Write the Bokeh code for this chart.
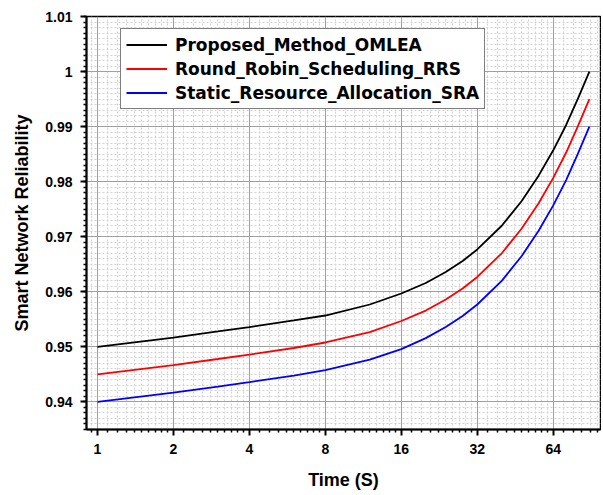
from bokeh.plotting import figure
from bokeh.models import (FixedTicker, CustomJSTickFormatter, Legend, LegendItem, Range1d)
from bokeh.embed import file_html
from bokeh.resources import INLINE

# ---- data ----
time_s = [1, 2, 3, 4, 6, 8, 12, 16, 20, 24, 28, 32, 40, 48, 56, 64, 72, 80, 89]
omlea = [0.9500, 0.9517, 0.9528, 0.9536, 0.9548, 0.9557, 0.9577, 0.9597,
         0.9616, 0.9636, 0.9656, 0.9677, 0.9720, 0.9765, 0.9811, 0.9857,
         0.9903, 0.9950, 1.0000]
rrs = [0.9450, 0.9467, 0.9478, 0.9486, 0.9498, 0.9508, 0.9527, 0.9547,
       0.9566, 0.9586, 0.9606, 0.9627, 0.9670, 0.9715, 0.9761, 0.9807,
       0.9853, 0.9900, 0.9950]
sra = [0.9400, 0.9417, 0.9428, 0.9436, 0.9448, 0.9458, 0.9477, 0.9496,
       0.9516, 0.9536, 0.9556, 0.9577, 0.9620, 0.9665, 0.9711, 0.9757,
       0.9803, 0.9850, 0.9900]
series_names = ["Proposed_Method_OMLEA", "Round_Robin_Scheduling_RRS",
                "Static_Resource_Allocation_SRA"]
series_colors = ["#000000", "#ff0000", "#0000ff"]
x_ticks = [1, 2, 4, 8, 16, 32, 64]
y_ticks = [0.94, 0.95, 0.96, 0.97, 0.98, 0.99, 1.00, 1.01]

# minor tick positions (linear subdivisions between powers of two)
x_minor = []
for k in range(-1, 7):
    base = 2.0 ** k
    for i in range(1, 10):
        x_minor.append(base * (1 + i / 10))
y_minor = [round(0.935 + 0.001 * i, 3) for i in range(0, 76)]

p = figure(width=601, height=492, x_axis_type="log",
           x_range=Range1d(0.905, 98.5), y_range=Range1d(0.935, 1.01),
           output_backend="svg", toolbar_location=None,
           min_border_left=86, min_border_right=1, min_border_top=16,
           min_border_bottom=62, background_fill_color="white",
           border_fill_color="white")

p.outline_line_color = "black"
p.outline_line_width = 1.5

# axes
p.xaxis.ticker = FixedTicker(ticks=x_ticks, minor_ticks=x_minor)
p.yaxis.ticker = FixedTicker(ticks=y_ticks, minor_ticks=y_minor)
p.xaxis.formatter = CustomJSTickFormatter(code="return String(Math.round(tick));")
p.yaxis.formatter = CustomJSTickFormatter(code="return String(Number(tick.toFixed(3)));")

for ax in (p.xaxis[0], p.yaxis[0]):
    ax.axis_line_color = "black"
    ax.axis_line_width = 2
    ax.major_tick_line_color = "black"
    ax.major_tick_line_width = 2
    ax.major_tick_out = 6
    ax.major_tick_in = 0
    ax.minor_tick_line_color = "black"
    ax.minor_tick_line_width = 1.5
    ax.minor_tick_out = 3
    ax.minor_tick_in = 0
    ax.major_label_text_font = "Liberation Sans"
    ax.major_label_text_font_style = "bold"
    ax.major_label_text_font_size = "14px"
    ax.major_label_text_color = "black"
    ax.axis_label_text_font = "Liberation Sans"
    ax.axis_label_text_font_style = "bold"
    ax.axis_label_text_font_size = "18px"
    ax.axis_label_text_color = "black"

p.xaxis.axis_label = "Time (S)"
p.yaxis.axis_label = "Smart Network Reliability"
p.xaxis.major_label_standoff = 8
p.xaxis.axis_label_standoff = 13
p.yaxis.major_label_standoff = 8
p.yaxis.axis_label_standoff = 10

# grids
for g in (p.xgrid[0], p.ygrid[0]):
    g.grid_line_color = "#a0a0a0"
    g.grid_line_width = 1
    g.minor_grid_line_color = "#d2d2d2"
    g.minor_grid_line_width = 1
    g.minor_grid_line_dash = "2 2"
p.xgrid.ticker = p.xaxis.ticker
p.ygrid.ticker = p.yaxis.ticker

# lines
renderers = []
for vals, col in zip([omlea, rrs, sra], series_colors):
    r = p.line(time_s, vals, line_color=col, line_width=1.8)
    renderers.append(r)

legend = Legend(items=[LegendItem(label=n, renderers=[r])
                       for n, r in zip(series_names, renderers)],
                location=(34, 320))
legend.border_line_color = "black"
legend.border_line_width = 1.5
legend.background_fill_color = "white"
legend.background_fill_alpha = 1
legend.label_text_font = "DejaVu Sans"
legend.label_text_font_style = "bold"
legend.label_text_font_size = "17px"
legend.label_text_color = "black"
legend.glyph_width = 41
legend.glyph_height = 21
legend.label_height = 21
legend.label_standoff = 8
legend.padding = 5
legend.spacing = 3
legend.margin = 0
p.add_layout(legend)

open("out.html", "w").write(file_html(p, INLINE))
